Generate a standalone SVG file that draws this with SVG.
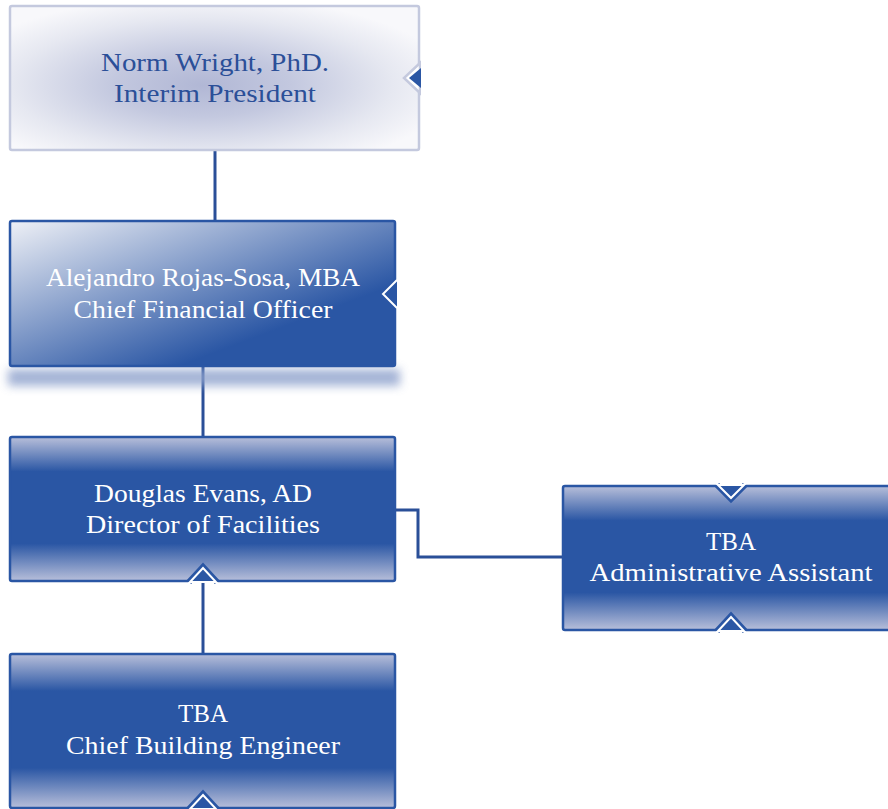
<svg xmlns="http://www.w3.org/2000/svg" width="888" height="809" viewBox="0 0 888 809">
<style>
.t{font-family:"Liberation Serif","Times New Roman",serif;font-size:25px;text-anchor:middle}
.w{fill:#ffffff}
.d{fill:#2b4f98}
.box{stroke:#2a56a4;stroke-width:2.5}
.conn{fill:none;stroke:#2a4f98;stroke-width:3}
.notchO{fill:none;stroke:#2a56a4;stroke-width:6;stroke-linejoin:miter}
.notch{fill:#2a56a4;stroke:#ffffff;stroke-width:2}
</style>
<defs>
<radialGradient id="g1" cx="0.47" cy="0.55" r="0.62">
<stop offset="0" stop-color="#b1b7d5"/>
<stop offset="0.35" stop-color="#c3c8df"/>
<stop offset="0.75" stop-color="#e6e8f1"/>
<stop offset="1" stop-color="#f8f8fb"/>
</radialGradient>
<linearGradient id="g2" x1="0" y1="0" x2="1" y2="1" gradientUnits="objectBoundingBox">
<stop offset="0" stop-color="#eef0f6"/>
<stop offset="0.72" stop-color="#2a56a4"/>
<stop offset="1" stop-color="#2a56a4"/>
</linearGradient>
<linearGradient id="gv" x1="0" y1="0" x2="0" y2="1">
<stop offset="0" stop-color="#b8bfda"/>
<stop offset="0.24" stop-color="#2a56a4"/>
<stop offset="0.74" stop-color="#2a56a4"/>
<stop offset="1" stop-color="#b8bfda"/>
</linearGradient>
<filter id="blur" x="-10%" y="-100%" width="120%" height="300%">
<feGaussianBlur stdDeviation="5"/>
</filter>
</defs>

<g id="connectors">
<line class="conn" x1="215" y1="150" x2="215" y2="222"/>
<line class="conn" x1="203" y1="366" x2="203" y2="438"/>
<polyline class="conn" points="395,510 418,510 418,557 563,557"/>
<line class="conn" x1="203" y1="575" x2="203" y2="654"/>
</g>

<g id="n1">
<rect x="10" y="6" width="409" height="144" rx="2" fill="url(#g1)" stroke="#c4c9de" stroke-width="2.5"/>
<polygon points="420,63 404,78 420,93" fill="#ffffff" stroke="#c4c9de" stroke-width="2.5"/>
<polygon points="421,68 409,78 421,88" fill="#2a56a4"/>
<rect x="421" y="60" width="4" height="36" fill="#ffffff"/>
<text class="t d" x="215" y="71" textLength="228" lengthAdjust="spacingAndGlyphs">Norm Wright, PhD.</text>
<text class="t d" x="215" y="102" textLength="202" lengthAdjust="spacingAndGlyphs">Interim President</text>
</g>

<g id="n2">
<rect x="8" y="369" width="392" height="17" fill="#8ea1cc" opacity="0.8" filter="url(#blur)"/>
<rect class="box" x="10" y="221" width="385" height="145" rx="2" fill="url(#g2)"/>
<polyline points="397,280 383,294 397,308" fill="#2a56a4" stroke="#ffffff" stroke-width="2"/>
<text class="t w" x="203" y="286" textLength="314" lengthAdjust="spacingAndGlyphs">Alejandro Rojas-Sosa, MBA</text>
<text class="t w" x="203" y="318" textLength="259" lengthAdjust="spacingAndGlyphs">Chief Financial Officer</text>
</g>

<g id="n3">
<rect class="box" x="10" y="437" width="385" height="144" rx="2" fill="url(#gv)"/>
<polyline class="notchO" points="189,582 203,567 217,582"/>
<polygon class="notch" points="190,582 203,568 216,582"/>
<text class="t w" x="203" y="502" textLength="218" lengthAdjust="spacingAndGlyphs">Douglas Evans, AD</text>
<text class="t w" x="203" y="533" textLength="234" lengthAdjust="spacingAndGlyphs">Director of Facilities</text>
</g>

<g id="n4">
<rect class="box" x="563" y="486" width="330" height="144" rx="2" fill="url(#gv)"/>
<polyline class="notchO" points="717,485 731,499 745,485"/>
<polygon class="notch" points="718,485 731,498 744,485"/>
<polyline class="notchO" points="717,631 731,616 745,631"/>
<polygon class="notch" points="718,631 731,617 744,631"/>
<text class="t w" x="731" y="550" textLength="50" lengthAdjust="spacingAndGlyphs">TBA</text>
<text class="t w" x="731" y="581" textLength="283" lengthAdjust="spacingAndGlyphs">Administrative Assistant</text>
</g>

<g id="n5">
<rect class="box" x="10" y="654" width="385" height="154" rx="2" fill="url(#gv)"/>
<polyline class="notchO" points="189,809 203,794 217,809"/>
<polygon class="notch" points="190,809 203,795 216,809"/>
<text class="t w" x="203" y="722" textLength="50" lengthAdjust="spacingAndGlyphs">TBA</text>
<text class="t w" x="203" y="754" textLength="274" lengthAdjust="spacingAndGlyphs">Chief Building Engineer</text>
</g>
</svg>
